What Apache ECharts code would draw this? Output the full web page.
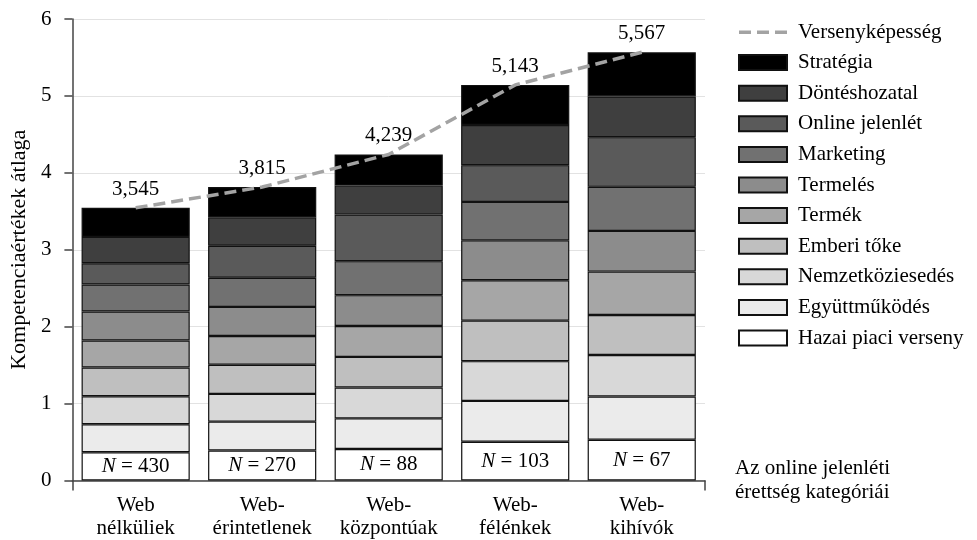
<!DOCTYPE html>
<html>
<head>
<meta charset="utf-8">
<script src="https://cdn.jsdelivr.net/npm/echarts@6/dist/echarts.min.js"></script>
<style>html,body{margin:0;padding:0;background:#fff}#c{width:977px;height:540px}</style>
</head>
<body>
<div id="c"></div>
<script>
const categories = ['Web\nnélküliek', 'Web-\nérintetlenek', 'Web-\nközpontúak', 'Web-\nfélénkek', 'Web-\nkihívók'];
const sampleN = [430, 270, 88, 103, 67];
const yTicks = [0, 1, 2, 3, 4, 5, 6];

const hazai      = [0.368, 0.391, 0.410, 0.504, 0.529];
const egyutt     = [0.364, 0.374, 0.398, 0.531, 0.564];
const nemzet     = [0.364, 0.361, 0.402, 0.517, 0.538];
const emberi     = [0.373, 0.378, 0.397, 0.526, 0.521];
const termek     = [0.351, 0.374, 0.402, 0.526, 0.564];
const termeles   = [0.377, 0.379, 0.401, 0.518, 0.529];
const marketing  = [0.351, 0.378, 0.442, 0.500, 0.573];
const online     = [0.277, 0.417, 0.607, 0.478, 0.646];
const dontes     = [0.342, 0.370, 0.375, 0.522, 0.529];
const strategia  = [0.378, 0.393, 0.405, 0.521, 0.574];
const versenykepesseg = [3.545, 3.815, 4.239, 5.143, 5.567];

const FONT = 'Liberation Serif';
const FS = 21;

const stackDefs = [
  ['Hazai piaci verseny', hazai, '#ffffff'],
  ['Együttműködés', egyutt, '#ebebeb'],
  ['Nemzetköziesedés', nemzet, '#d8d8d8'],
  ['Emberi tőke', emberi, '#bfbfbf'],
  ['Termék', termek, '#a6a6a6'],
  ['Termelés', termeles, '#8c8c8c'],
  ['Marketing', marketing, '#717171'],
  ['Online jelenlét', online, '#5a5a5a'],
  ['Döntéshozatal', dontes, '#3f3f3f'],
  ['Stratégia', strategia, '#000000']
];

const series = stackDefs.map(([name, data, color], idx) => {
  const s = {
    name, type: 'bar', stack: 'total', data,
    barCategoryGap: '14.5%',
    itemStyle: { color, borderColor: '#111', borderWidth: 1.2 },
    emphasis: { disabled: true }
  };
  if (idx === 0) {
    s.label = {
      show: true, position: 'inside', color: '#000', fontFamily: FONT, fontSize: FS,
      formatter: p => '{i|N} = ' + sampleN[p.dataIndex],
      rich: { i: { fontStyle: 'italic', fontFamily: FONT, fontSize: FS, color: '#000' } }
    };
  }
  return s;
});

const LINE_COLOR = '#a3a3a3';
series.push({
  name: 'Versenyképesség', type: 'line', data: versenykepesseg,
  symbol: 'circle', symbolSize: 0.1, showSymbol: true, z: 10,
  lineStyle: { color: LINE_COLOR, width: 3.5, type: [12, 6] },
  itemStyle: { color: 'rgba(0,0,0,0)' },
  label: {
    show: true, position: 'top', distance: 8, color: '#000', fontFamily: FONT, fontSize: FS,
    formatter: p => p.value.toFixed(3).replace('.', ',')
  },
  emphasis: { disabled: true }
});

const dashIcon = 'path://M0,0L0.01,0L0,0.01Z M0,6h12v3.5h-12z M18,6h12v3.5h-12z M36,6h12v3.5h-12z M48,15L47.99,15L48,14.99Z';
const legendOrder = [{ name: 'Versenyképesség', icon: dashIcon, itemStyle: { color: LINE_COLOR, borderWidth: 0 } }]
  .concat(stackDefs.map(d => ({ name: d[0] })).reverse());

const chart = echarts.init(document.getElementById('c'), null, { renderer: 'canvas' });
chart.setOption({
  animation: false,
  textStyle: { fontFamily: FONT },
  grid: { left: 68, right: 272, top: 19, bottom: 59.5, containLabel: false },
  legend: {
    orient: 'vertical', left: 733, top: 16, icon: 'rect',
    itemWidth: 48, itemHeight: 15, itemGap: 8.6,
    data: legendOrder,
    textStyle: { fontFamily: FONT, fontSize: FS, color: '#000', lineHeight: 22, padding: [0, 0, 0, 6] },
    selectedMode: false
  },
  xAxis: [{
    type: 'category', data: categories,
    name: 'Az online jelenléti\nérettség kategóriái',
    nameLocation: 'end', nameGap: 30,
    nameTextStyle: { fontFamily: FONT, fontSize: FS, color: '#000', align: 'left', lineHeight: 24, padding: [4, 0, 0, 0] },
    axisLine: { lineStyle: { color: '#444', width: 1.5 } },
    axisTick: { alignWithLabel: true, interval: 0, length: 7, lineStyle: { color: '#444', width: 1.5 } },
    axisLabel: { interval: 0, hideOverlap: false, fontFamily: FONT, fontSize: FS, color: '#000', lineHeight: 23, margin: 13 }
  }, {
    type: 'value', position: 'bottom', min: 0, max: 1, interval: 1,
    axisLine: { show: false },
    axisTick: { show: true, length: 10, lineStyle: { color: '#444', width: 1.5 } },
    axisLabel: { show: false }, splitLine: { show: false }
  }],
  yAxis: {
    type: 'value', min: yTicks[0], max: yTicks[yTicks.length - 1], interval: 1,
    name: 'Kompetenciaértékek átlaga', nameLocation: 'middle', nameGap: 41,
    nameTextStyle: { fontFamily: FONT, fontSize: 22, color: '#000' },
    axisLine: { show: true, lineStyle: { color: '#444', width: 1.5 } },
    axisTick: { show: true, length: 8, lineStyle: { color: '#444', width: 1.5 } },
    axisLabel: { fontFamily: FONT, fontSize: FS, color: '#000', margin: 21 },
    splitLine: { show: true, lineStyle: { color: '#e2e2e2', width: 1 } }
  },
  series
});
</script>
</body>
</html>
